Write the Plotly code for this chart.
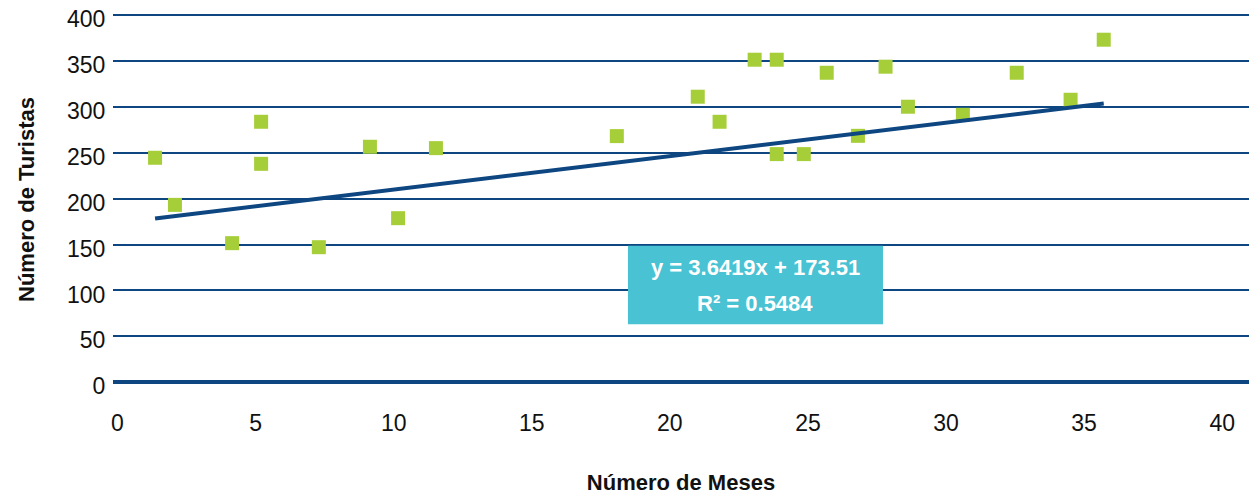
import plotly.graph_objects as go

# Months (x) and number of tourists (y)
meses = [1.36, 2.08, 4.15, 5.20, 5.20, 7.29, 9.14, 10.16, 11.53, 18.08, 21.01, 21.80,
         23.07, 23.87, 23.87, 24.85, 25.68, 26.81, 27.81, 28.62, 30.61, 32.56, 34.51, 35.71]
turistas = [244.5, 193.2, 151.5, 283.7, 237.9, 147.1, 256.5, 178.7, 255.0, 268.1, 311.0, 283.7,
            351.3, 351.3, 248.5, 248.5, 337.1, 268.4, 343.7, 300.1, 291.3, 337.1, 307.7, 373.1]

# Linear trend line coefficients and fit quality
pendiente = 3.6419
intercepto = 173.51
r2 = 0.5484

x_ticks = [0, 5, 10, 15, 20, 25, 30, 35, 40]
y_ticks = [0, 50, 100, 150, 200, 250, 300, 350, 400]

NAVY = "#0d4680"
GREEN = "#a6ce39"
TEAL = "#49c2d3"
FONT = "Liberation Sans, Arial, sans-serif"

tx = [min(meses), max(meses)]
ty = [pendiente * v + intercepto for v in tx]

fig = go.Figure()
fig.add_trace(go.Scatter(
    x=meses, y=turistas, mode="markers",
    marker=dict(symbol="square", size=14, color=GREEN, line=dict(width=0)),
    showlegend=False, hoverinfo="x+y",
))
fig.add_trace(go.Scatter(
    x=tx, y=ty, mode="lines",
    line=dict(color=NAVY, width=4),
    showlegend=False, hoverinfo="skip",
))

# Equation box
fig.add_shape(type="rect", xref="paper", yref="paper",
              x0=0.4533, x1=0.6778, y0=0.1636, y1=0.3755,
              fillcolor=TEAL, line=dict(width=0), layer="above")
fig.add_annotation(xref="paper", yref="paper", x=0.5655, y=0.318,
                   xanchor="center", yanchor="middle",
                   text=f"y = {pendiente}x + {intercepto}", showarrow=False,
                   font=dict(family=FONT, size=22, color="white", weight="bold"))
fig.add_annotation(xref="paper", yref="paper", x=0.5655, y=0.221,
                   xanchor="center", yanchor="middle",
                   text=f"R² = {r2}", showarrow=False,
                   font=dict(family=FONT, size=22, color="white", weight="bold"))

fig.update_layout(
    width=1249, height=496,
    margin=dict(l=113, r=0, t=14, b=111),
    paper_bgcolor="white", plot_bgcolor="white",
    font=dict(family=FONT, size=23, color="#111111"),
    xaxis=dict(
        range=[-0.163, 40.97], tickvals=x_ticks, showgrid=False, zeroline=False,
        showline=False, ticks="outside", ticklen=17, tickcolor="rgba(0,0,0,0)",
        tickfont=dict(size=23),
        title=dict(text="Número de Meses", standoff=40,
                   font=dict(size=22, weight="bold")),
    ),
    yaxis=dict(
        range=[-3, 401.1], tickvals=y_ticks, showgrid=True, gridcolor=NAVY, gridwidth=2,
        zeroline=True, zerolinecolor=NAVY, zerolinewidth=4,
        showline=False, ticks="outside", ticklen=2, tickcolor="rgba(0,0,0,0)",
        ticklabelshift=4,
        tickfont=dict(size=23),
        title=dict(text="Número de Turistas", standoff=26,
                   font=dict(size=22, weight="bold")),
    ),
)

fig.write_html("out.html")
